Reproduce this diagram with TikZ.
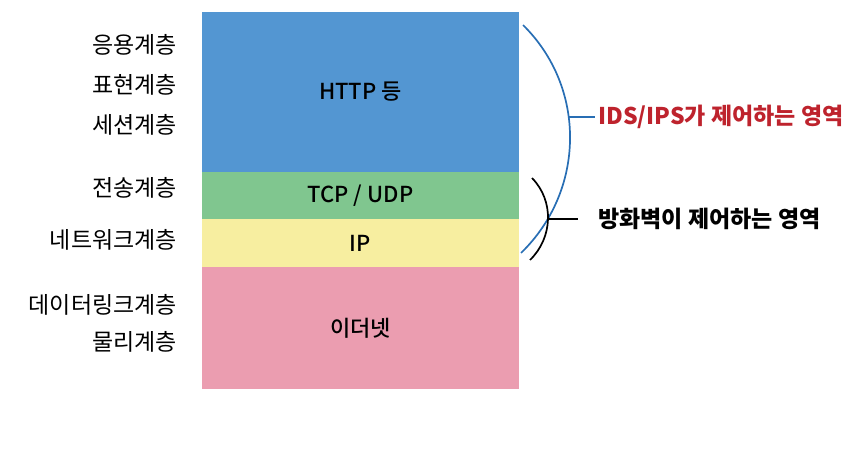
\documentclass[tikz,border=0pt]{standalone}
\usepackage{fontspec}
\setmainfont{Noto Sans CJK KR}
\newfontfamily\medfont{Noto Sans CJK KR Medium}
\usepackage{tikz}
\usetikzlibrary{positioning}
\definecolor{layerblue}{RGB}{83,150,210}
\definecolor{layergreen}{RGB}{128,198,143}
\definecolor{layeryellow}{RGB}{247,238,160}
\definecolor{layerpink}{RGB}{235,157,176}
\definecolor{idsblue}{RGB}{40,110,180}
\definecolor{idsred}{RGB}{190,35,45}
\tikzset{
  layerbox/.style={rectangle,minimum width=317pt,outer sep=0pt,inner sep=0pt,font=\medfont\fontsize{22}{26}\selectfont},
  httpbox/.style={layerbox,fill=layerblue,minimum height=160pt},
  tcpbox/.style={layerbox,fill=layergreen,minimum height=47pt},
  ipbox/.style={layerbox,fill=layeryellow,minimum height=48pt},
  etherbox/.style={layerbox,fill=layerpink,minimum height=122pt},
  osilabel/.style={anchor=east,inner sep=1pt,font=\fontsize{23}{27}\selectfont},
  rangelabel/.style={anchor=west,inner sep=3pt,font=\fontsize{23}{27}\selectfont\bfseries},
  idsline/.style={line width=1.7pt,color=idsblue},
  fwline/.style={line width=1.7pt,color=black}
}

\begin{document}
\begin{tikzpicture}[x=1pt,y=-1pt]
  \useasboundingbox (0,0) rectangle (856,458);

  % layer stack
  \node[httpbox] (http) at (360.5,92) {HTTP 등};
  \node[tcpbox,below=0pt of http] (tcp) {TCP / UDP};
  \node[ipbox,below=0pt of tcp] (ip) {IP};
  \node[etherbox,below=0pt of ip] (ether) {이더넷};

  % OSI layer names
  \node[osilabel] (app) at (178,45) {응용계층};
  \node[osilabel] (pres) at (178,85) {표현계층};
  \node[osilabel] (sess) at (178,125) {세션계층};
  \node[osilabel] (trans) at (178,188) {전송계층};
  \node[osilabel] (net) at (178,240) {네트워크계층};
  \node[osilabel] (link) at (178,305) {데이터링크계층};
  \node[osilabel] (phys) at (178,342) {물리계층};

  % IDS/IPS range
  \coordinate (idsTop) at (523,25);
  \coordinate (idsBot) at (521,253);
  \coordinate (idsJoin) at (568.5,117);
  \node[rangelabel,text=idsred] (idsLabel) at (595,117) {IDS/IPS가 제어하는 영역};
  \draw[idsline] (idsTop) .. controls (586.8,87.9) and (585.3,190.6) .. (idsBot);
  \draw[idsline] (idsJoin) -- (idsLabel.west);

  % firewall range
  \coordinate (fwTop) at (532,178);
  \coordinate (fwBot) at (530,260);
  \coordinate (fwJoin) at (548,219);
  \node[rangelabel] (fwLabel) at (595,219) {방화벽이 제어하는 영역};
  \draw[fwline] (fwTop) .. controls (554.4,200.9) and (552.9,237.7) .. (fwBot);
  \draw[fwline,shorten >=17pt] (fwJoin) -- (fwLabel.west);
\end{tikzpicture}
\end{document}
